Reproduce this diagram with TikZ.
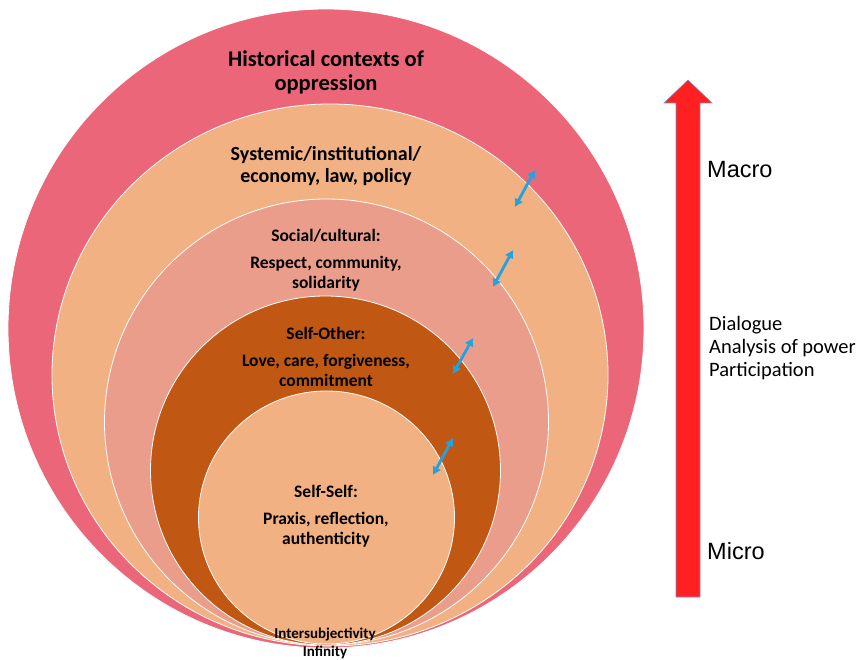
\documentclass[tikz,border=0pt]{standalone}
\usepackage{fontspec}
\setmainfont{Carlito}
\newfontfamily\arialfont{Liberation Sans}
\usetikzlibrary{arrows.meta}

\definecolor{histpink}{HTML}{EC6679}
\definecolor{syspeach}{HTML}{F2B183}
\definecolor{socsalmon}{HTML}{EB9D8C}
\definecolor{otherbrown}{HTML}{C05712}
\definecolor{linkblue}{HTML}{22A3E0}
\definecolor{arrowred}{HTML}{FF2121}
\definecolor{arrowedge}{HTML}{7C8CC4}

\tikzset{
  ring/.style={draw=white, line width=0.8pt},
  lbl/.style={align=center, inner sep=0pt, font=\bfseries\fontsize{17.5}{19.5}\selectfont},
  link/.style={linkblue, line width=2.8pt, {Latex[length=8pt,width=10pt]}-{Latex[length=8pt,width=10pt]}},
  side/.style={anchor=west, inner sep=0pt}
}

\begin{document}
\begin{tikzpicture}[x=1pt, y=-1pt]
\useasboundingbox (0,0) rectangle (859,660);

% Nested rings
\filldraw[ring, fill=histpink] (326,328.5) ellipse [x radius=318pt, y radius=319.5pt];
\filldraw[ring, fill=syspeach] (330,375) ellipse [x radius=278pt, y radius=271pt];
\filldraw[ring, fill=socsalmon] (326.5,422) ellipse [x radius=222pt, y radius=223pt];
\filldraw[ring, fill=otherbrown] (325.5,470.5) ellipse [x radius=175pt, y radius=174.5pt];
\filldraw[ring, fill=syspeach] (326.5,517.5) ellipse [x radius=128pt, y radius=126.5pt];

% Ring labels
\node (hist) at (326,72) [lbl, font=\bfseries\fontsize{22.5}{24}\selectfont] {Historical contexts of\\oppression};
\node (sys) at (326,166) [lbl, font=\bfseries\fontsize{20}{22}\selectfont] {Systemic/institutional/\\economy, law, policy};
\node (soc) at (326,260) [lbl] {Social/cultural:\\[7.5pt]Respect, community,\\solidarity};
\node (other) at (326,357) [lbl] {Self-Other:\\[7.5pt]Love, care, forgiveness,\\commitment};
\node (self) at (326,516) [lbl] {Self-Self:\\[7.5pt]Praxis, reflection,\\authenticity};
\node (inter) at (325,643) [lbl, font=\bfseries\fontsize{15}{18}\selectfont] {Intersubjectivity\\Infinity};

% Blue two-way arrows
\coordinate (sysin) at (515,207);
\coordinate (sysout) at (535,170);
\coordinate (socin) at (493,287);
\coordinate (socout) at (513,250);
\coordinate (otherin) at (453,374);
\coordinate (otherout) at (473,338);
\coordinate (selfin) at (433,475);
\coordinate (selfout) at (453,438);
\draw[link] (sysin) -- (sysout);
\draw[link] (socin) -- (socout);
\draw[link] (otherin) -- (otherout);
\draw[link] (selfin) -- (selfout);

% Micro to macro arrow
\filldraw[fill=arrowred, draw=arrowedge, line width=0.6pt]
  (676,597) -- (676,103) -- (664,103) -- (688,80) -- (712,103) -- (700,103) -- (700,597) -- cycle;

\node (macro) at (707,170) [side, font=\arialfont\fontsize{23.5}{28}\selectfont] {Macro};
\node (micro) at (707,551) [side, font=\arialfont\fontsize{23.5}{28}\selectfont] {Micro};
\node (means) at (709,348) [side, align=left, font=\fontsize{20.5}{23}\selectfont] {Dialogue\\Analysis of power\\Participation};

\end{tikzpicture}
\end{document}
